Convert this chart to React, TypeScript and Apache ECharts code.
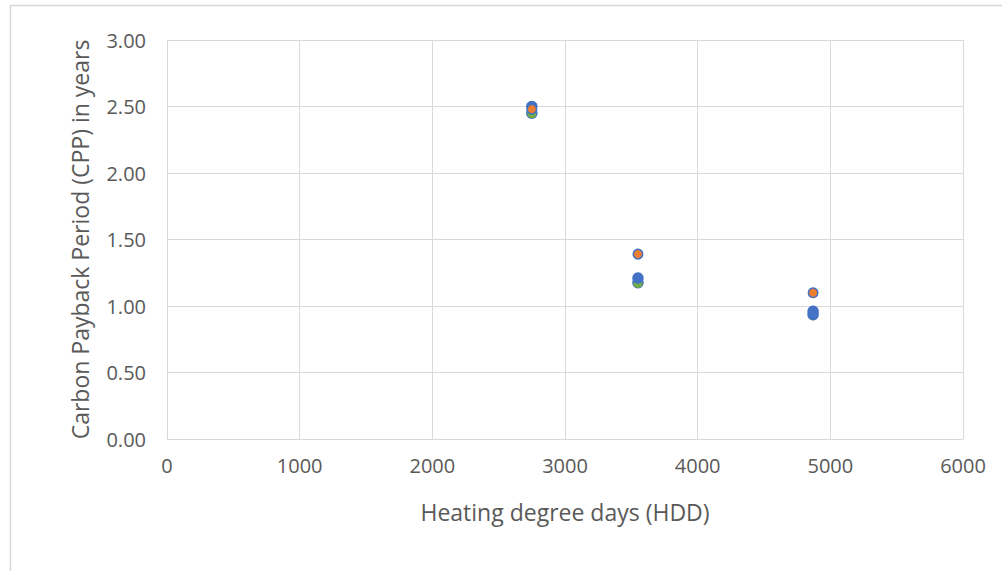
import React, { useEffect, useRef } from "react";
import * as echarts from "echarts";

const hdd = [2750, 3550, 4870];
const seriesBlueA = [2.45, 1.175, 0.96];
const seriesGreen = [2.445, 1.17, 0.925];
const seriesBlueB = [2.5, 1.21, 0.935];
const seriesOrange = [2.48, 1.39, 1.1];

const xTicks = { min: 0, max: 6000, interval: 1000 };
const yTicks = { min: 0, max: 3, interval: 0.5 };

const FONT = "'Open Sans', 'Noto Sans', sans-serif";

export default function App() {
  const ref = useRef<HTMLDivElement>(null);
  useEffect(() => {
    document.body.style.margin = "0";
    const chart = echarts.init(ref.current!, null, { renderer: "svg" });
    const pts = (ys: number[]) => hdd.map((x, i) => [x, ys[i]]);
    const mk = (name: string, data: number[], color: string, z: number, size: number, border?: string) => ({
      name,
      type: "scatter",
      data: pts(data),
      symbol: "circle",
      symbolSize: size,
      z,
      itemStyle: { color, borderColor: border || color, borderWidth: border ? 1.5 : 0, opacity: 1 },
    });
    chart.setOption({
      animation: false,
      backgroundColor: "#ffffff",
      textStyle: { fontFamily: FONT },
      graphic: [
        {
          type: "rect",
          shape: { x: 10.5, y: 5.5, width: 1100, height: 700 },
          style: { fill: "none", stroke: "#D9D9D9", lineWidth: 1.5 },
          silent: true,
          z: -10,
        },
      ],
      grid: { left: 167, right: 39, top: 40, bottom: 132, containLabel: false },
      xAxis: {
        type: "value",
        ...xTicks,
        name: "Heating degree days (HDD)",
        nameLocation: "middle",
        nameGap: 61,
        nameTextStyle: { fontSize: 23, color: "#595959", fontFamily: FONT },
        axisLine: { show: true, lineStyle: { color: "#D9D9D9", width: 1 } },
        axisTick: { show: false },
        axisLabel: {
          fontSize: 20,
          color: "#595959",
          margin: 16,
          fontFamily: FONT,
          formatter: (v: number) => String(v),
        },
        splitLine: { show: true, lineStyle: { color: "#D9D9D9", width: 1 } },
      },
      yAxis: {
        type: "value",
        ...yTicks,
        name: "Carbon Payback Period (CPP) in years",
        nameLocation: "middle",
        nameGap: 76,
        nameTextStyle: { fontSize: 23, color: "#595959", fontFamily: FONT },
        axisLine: { show: false },
        axisTick: { show: false },
        axisLabel: {
          fontSize: 20,
          color: "#595959",
          margin: 21,
          fontFamily: FONT,
          formatter: (v: number) => v.toFixed(2),
        },
        splitLine: { show: true, lineStyle: { color: "#D9D9D9", width: 1 } },
      },
      series: [
        mk("Series A", seriesBlueA, "#4472C4", 2, 11.5),
        mk("Series B", seriesGreen, "#70AD47", 3, 9),
        mk("Series C", seriesBlueB, "#4472C4", 4, 11.5),
        mk("Series D", seriesOrange, "#ED7D31", 5, 9.5, "#4472C4"),
      ],
    });
    return () => chart.dispose();
  }, []);
  return <div ref={ref} style={{ width: 1002, height: 571 }} />;
}
